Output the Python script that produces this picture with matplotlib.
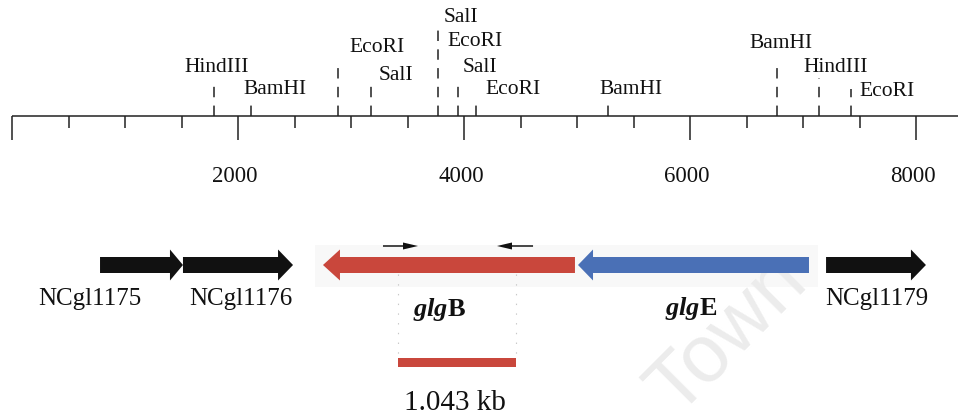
import matplotlib
matplotlib.use("Agg")
import matplotlib.pyplot as plt
from matplotlib.patches import FancyArrow, Rectangle

plt.rcParams["font.family"] = ["Liberation Serif", "DejaVu Serif"]
plt.rcParams["mathtext.fontset"] = "custom"
plt.rcParams["mathtext.rm"] = "Liberation Serif"
plt.rcParams["mathtext.bf"] = "Liberation Serif:bold"
plt.rcParams["mathtext.bfit"] = "Liberation Serif:italic:bold"
plt.rcParams["lines.scale_dashes"] = False

# ---------------- data ----------------
axis_ticks_major = [0, 2000, 4000, 6000, 8000]
axis_ticks_minor = [500, 1000, 1500, 2500, 3000, 3500, 4500, 5000, 5500,
                    6500, 7000, 7500]
tick_labels = ["2000", "4000", "6000", "8000"]
tick_label_pos = [2000, 4000, 6000, 8000]

site_names = ["HindIII", "BamHI", "EcoRI", "SalI", "SalI", "EcoRI", "SalI",
              "EcoRI", "BamHI", "BamHI", "HindIII", "EcoRI"]
site_pos = [1788, 2115, 2885, 3177, 3770, 3770, 3947, 4106, 5274, 6770,
            7142, 7425]

gene_names = ["NCgl1175", "NCgl1176", "glgB", "glgE", "NCgl1179"]
gene_from = [779, 1513, 4982, 7053, 7204]
gene_to = [1513, 2487, 2752, 5009, 8088]

primer_from = [3283, 4611]
primer_to = [3593, 4292]

product_start = 3420
product_kb = 1.043

# ---------------- layout (pixels) ----------------
W, H = 958, 418
X0_PX = 12.0          # pixel position of 0 bp
PX_PER_BP = 0.113


def bp(px_len):
    return px_len / PX_PER_BP


AXIS_Y = 116
# per-site label centre offset (px) / label height (px) / dashed line top (px)
site_label_dx = [3, 24, 39, 25, 23, 37, 22, 37, 23, 4, 17, 36]
site_label_y = [68, 90, 47, 75, 18, 42, 67, 90, 90, 43, 68, 92]
site_line_top = [83, 104, 62, 83, 25, 25, 83, 102, 103, 63, 78, 89]

gene_colors = ["#111111", "#111111", "#c9473c", "#4a70b6", "#111111"]
gene_head_len = [13, 15, 17, 15, 15]
gene_label_x = [90, 241, None, None, 877]
GENE_Y = 265

fig = plt.figure(figsize=(W / 100, H / 100), dpi=100)
ax = fig.add_axes([0, 0, 1, 1])
ax.set_xlim(bp(-X0_PX), bp(W - X0_PX))
ax.set_ylim(H, 0)
ax.axis("off")

# watermark
ax.text(bp(728 - X0_PX), 336, "Town", rotation=45, fontsize=58,
        family="Liberation Sans", color="#ececec", ha="center", va="center",
        zorder=2)

# ---------------- scale bar ----------------
ax.plot([0, bp(W)], [AXIS_Y, AXIS_Y], color="#222222", lw=1.1,
        solid_capstyle="butt")
ax.vlines(axis_ticks_major, AXIS_Y, 140, color="#222222", lw=1.1)
ax.vlines(axis_ticks_minor, AXIS_Y, 128, color="#222222", lw=1.1)
for lab, p in zip(tick_labels, tick_label_pos):
    ax.text(p - bp(3), 176, lab, ha="center", va="center", fontsize=16.5,
            color="#111111")

# restriction sites (one dashed line per distinct position)
drawn = set()
for name, p, dx, ly, top in zip(site_names, site_pos, site_label_dx,
                                site_label_y, site_line_top):
    if p not in drawn:
        tops = [t for q, t in zip(site_pos, site_line_top) if q == p]
        ax.plot([p, p], [AXIS_Y, min(tops)], color="#222222", lw=1.1,
                linestyle=(0, (7.5, 6)))
        drawn.add(p)
    ax.text(p + bp(dx), ly, name, ha="center", va="center", fontsize=15.5,
            color="#111111")

# ---------------- gene map ----------------
ax.add_patch(Rectangle((bp(315 - X0_PX), 245), bp(503), 42,
                       facecolor="#f8f8f8", edgecolor="none", zorder=1))

for i, (name, a, b) in enumerate(zip(gene_names, gene_from, gene_to)):
    ax.add_patch(FancyArrow(a, GENE_Y, b - a, 0, width=16, head_width=31,
                            head_length=bp(gene_head_len[i]),
                            length_includes_head=True,
                            color=gene_colors[i], lw=0, zorder=3))
    if gene_label_x[i] is not None:
        ax.text(bp(gene_label_x[i] - X0_PX), 299, name, ha="center",
                va="center", fontsize=18, color="#111111")

# italic bold gene names for the glycogen genes
ax.text((gene_from[2] + gene_to[2]) / 2 - bp(9), 316,
        r"$\mathbfit{glg}\mathbf{B}$", ha="center", va="baseline",
        fontsize=19, color="#111111", zorder=4)
ax.text((gene_from[3] + gene_to[3]) / 2 - bp(2), 315,
        r"$\mathbfit{glg}\mathbf{E}$", ha="center", va="baseline",
        fontsize=19, color="#111111", zorder=4)

# primers
for a, b in zip(primer_from, primer_to):
    ax.add_patch(FancyArrow(a, 246, b - a, 0, width=1.5, head_width=7,
                            head_length=bp(15), length_includes_head=True,
                            color="#111111", lw=0, zorder=4))

# PCR product
product_len = product_kb * 1000
ax.vlines([product_start, product_start + product_len], 274, 357,
          color="#c8c8c8", lw=0.8, linestyle=(0, (1, 6)))
ax.barh(362.5, product_len, left=product_start, height=9,
        color="#c9473c", zorder=3)
ax.text(product_start + product_len / 2 - bp(2), 403,
        f"{product_kb:.3f} kb", ha="center", va="center", fontsize=21,
        color="#111111")

fig.savefig("out.png", dpi=100)
